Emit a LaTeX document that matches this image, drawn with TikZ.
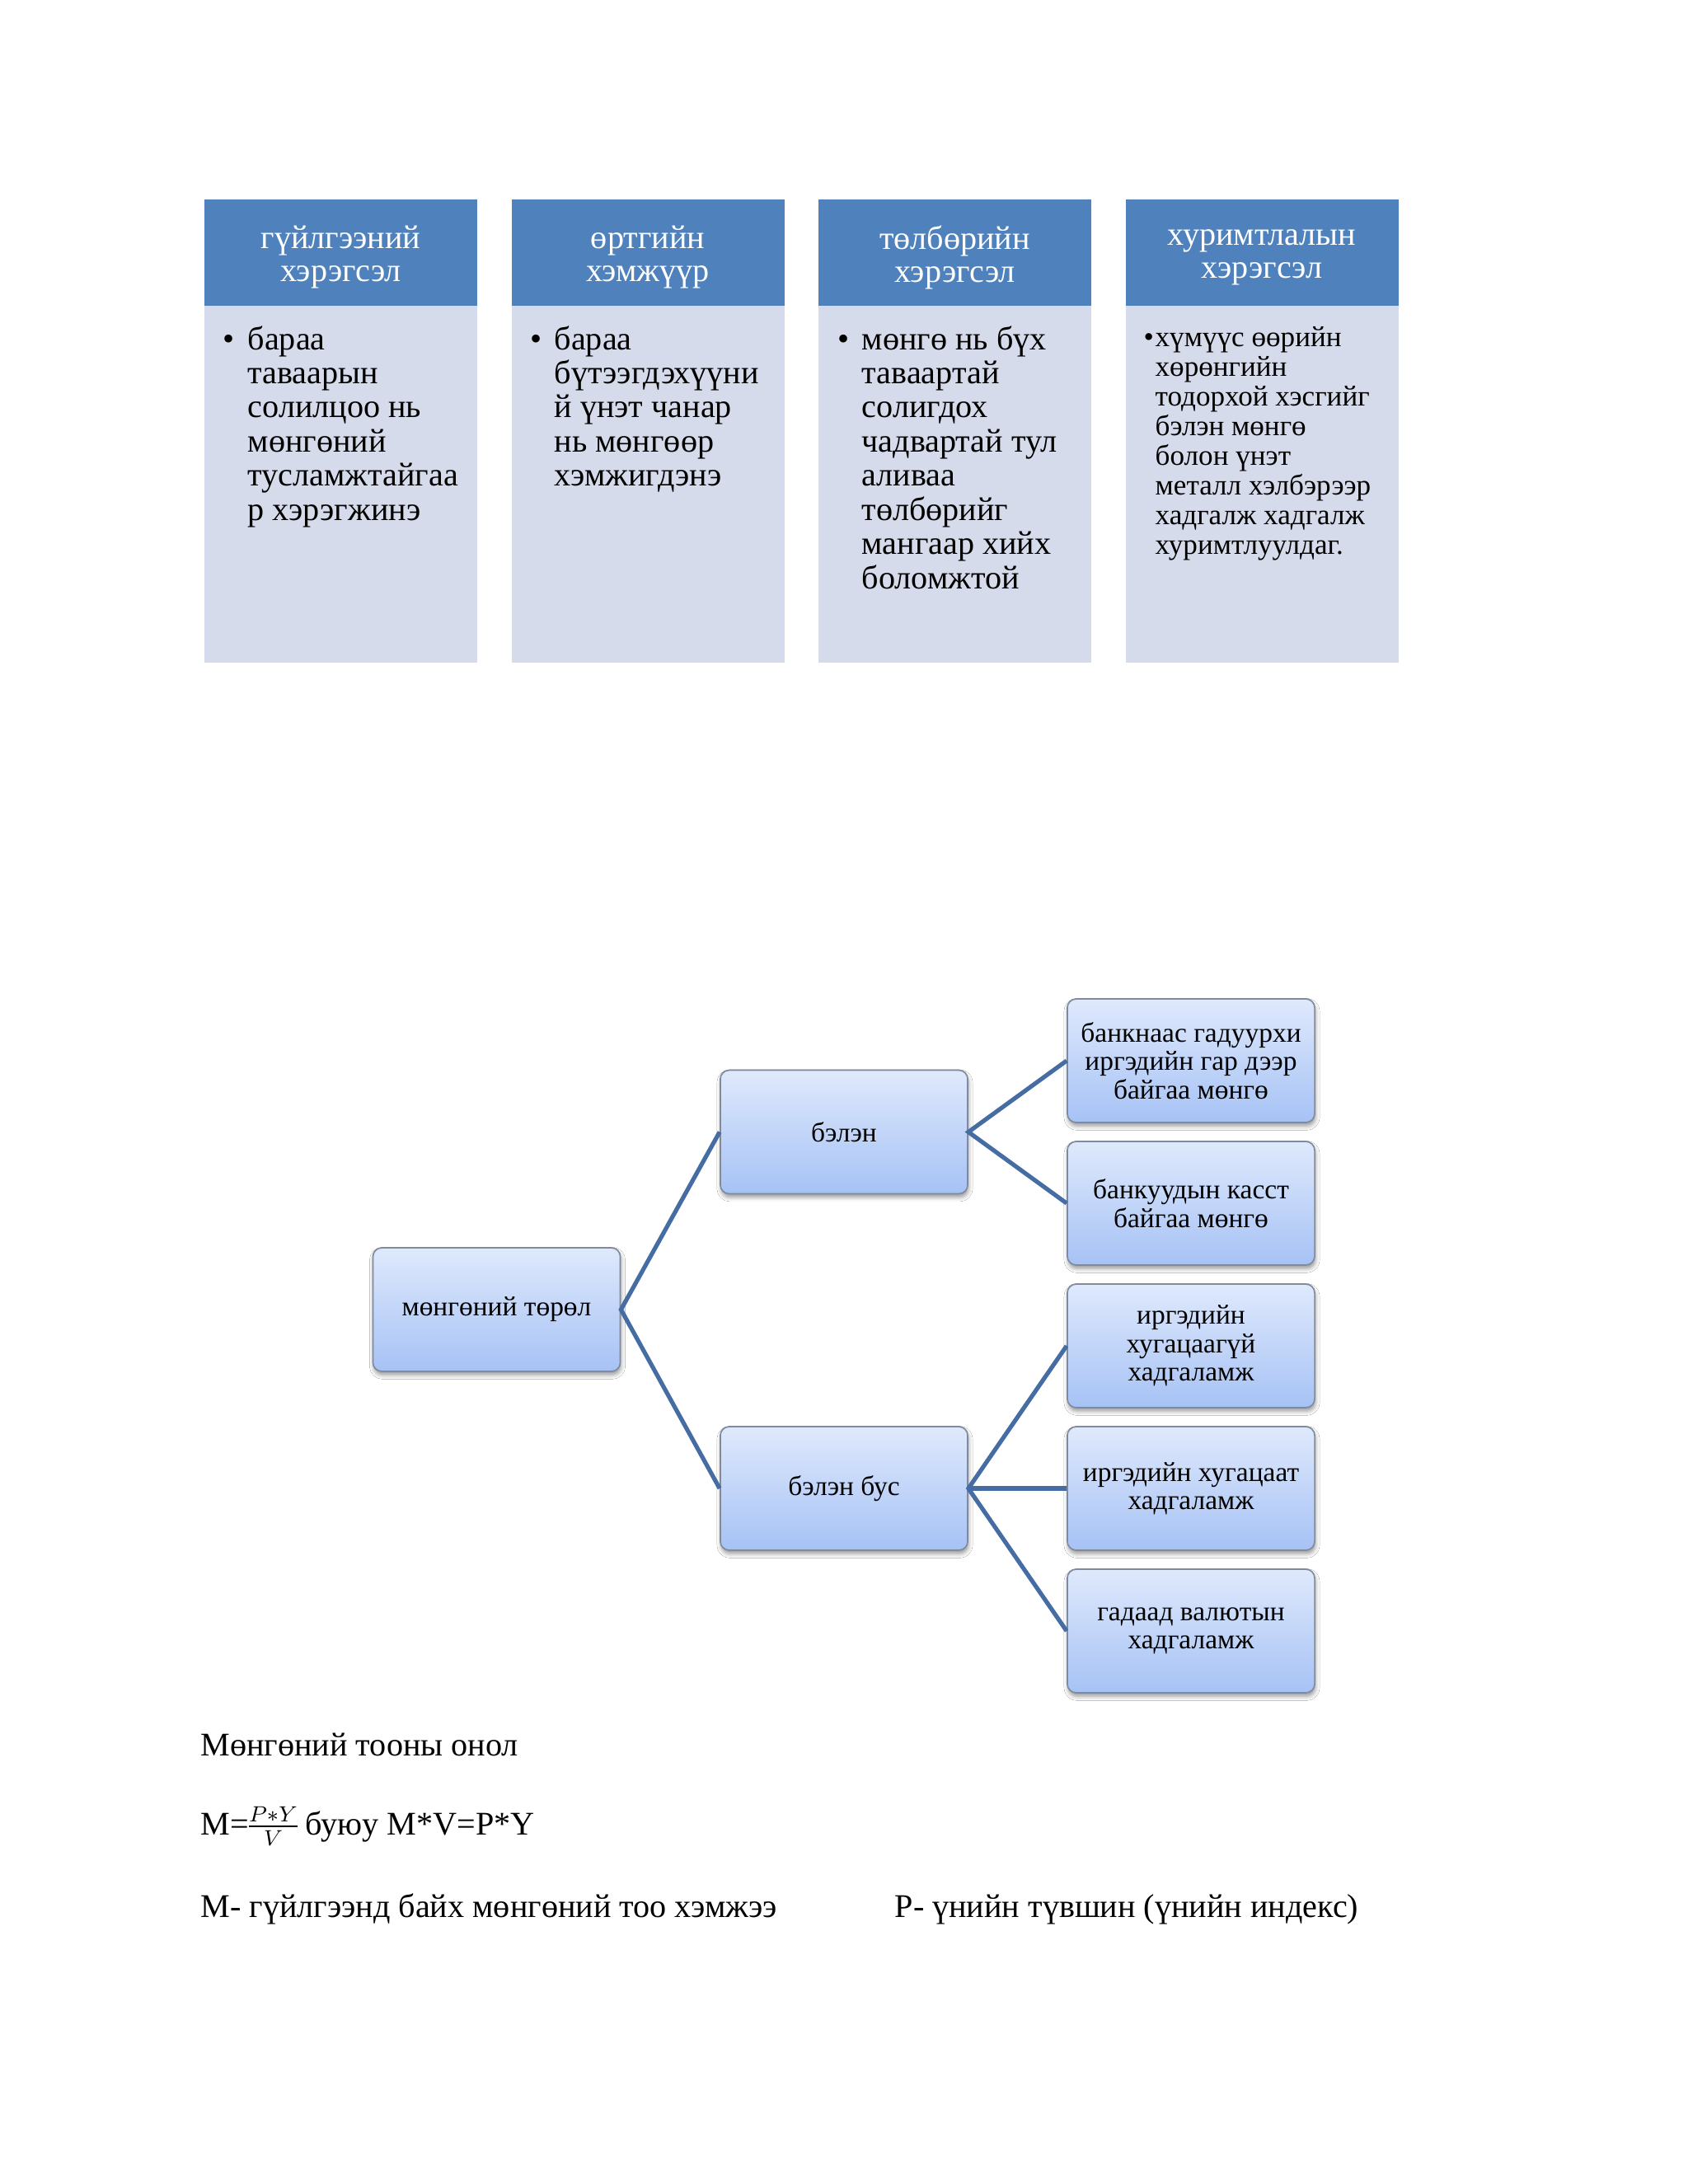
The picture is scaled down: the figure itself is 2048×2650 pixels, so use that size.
\documentclass[tikz,border=0pt]{standalone}
\usepackage{fontspec}
\usepackage{amsmath}
\setmainfont{Liberation Serif}
\usetikzlibrary{shadows.blur}
\definecolor{hdr}{HTML}{4F81BD}
\definecolor{bodyc}{HTML}{D6DBEB}
\definecolor{lnc}{HTML}{456DA3}
\definecolor{boxtop}{HTML}{DFE9FC}
\definecolor{boxbot}{HTML}{A6C2F5}
\definecolor{boxdraw}{HTML}{7F8A9C}
\newcommand\vlines[1]{\vtop{\lineskiplimit=-100pt\lineskip=0pt\halign{##\hfil\cr#1\crcr}}}
\tikzset{
  hdrtext/.style={text=white, align=center, inner sep=0pt, font=\fontsize{12bp}{12bp}\selectfont},
  bodytext/.style={anchor=base west, inner sep=0pt, font=\fontsize{12bp}{12.4bp}\selectfont},
  smalltext/.style={anchor=base west, inner sep=0pt, font=\fontsize{10.5bp}{10.8bp}\selectfont},
  tbox/.style={draw=boxdraw, line width=0.5bp, rounded corners=3.2bp,
    top color=boxtop, bottom color=boxbot, minimum width=89.7bp, minimum height=44.8bp,
    align=center, inner sep=2bp, font=\fontsize{10bp}{10.3bp}\selectfont,
    blur shadow={shadow xshift=0.3bp, shadow yshift=-1.3bp, shadow blur radius=1.5bp, shadow opacity=40}},
  conn/.style={draw=lnc, line width=1.55bp},
  plain/.style={anchor=base west, inner sep=0pt, font=\fontsize{12bp}{14bp}\selectfont}
}
\begin{document}
\begin{tikzpicture}[x=0.29886bp, y=-0.29886bp]
\useasboundingbox[fill=white] (0,0) rectangle (2048,2650);

% ---- top columns ----
\foreach \xl in {248,620.5,993,1365.5}{
  \fill[hdr] (\xl,242) rectangle ({\xl+331},371);
  \fill[bodyc] (\xl,371) rectangle ({\xl+331},804);
}
\node[hdrtext] (h1) at (413.5,312) {гүйлгээний\\хэрэгсэл};
\node[hdrtext] (h2) at (786,312) {өртгийн\\хэмжүүр};
\node[hdrtext] (h3) at (1158.5,312) {төлбөрийн\\хэрэгсэл};
\node[hdrtext] (h4) at (1531,312) {хуримтлалын\\хэрэгсэл};

\node[bodytext] (u1) at (270,424) {•};
\node[bodytext] (b1) at (300,424) {\vlines{бараа\cr таваарын\cr солилцоо нь\cr мөнгөний\cr тусламжтайгаа\cr р хэрэгжинэ}};
\node[bodytext] (u2) at (643,424) {•};
\node[bodytext] (b2) at (672,424) {\vlines{бараа\cr бүтээгдэхүүни\cr й үнэт чанар\cr нь мөнгөөр\cr хэмжигдэнэ}};
\node[bodytext] (u3) at (1016,424) {•};
\node[bodytext] (b3) at (1045,424) {\vlines{мөнгө нь бүх\cr таваартай\cr солигдох\cr чадвартай тул\cr аливаа\cr төлбөрийг\cr мангаар хийх\cr боломжтой}};
\node[smalltext] (u4) at (1387,420) {•};
\node[smalltext] (b4) at (1401,420) {\vlines{хүмүүс өөрийн\cr хөрөнгийн\cr тодорхой хэсгийг\cr бэлэн мөнгө\cr болон үнэт\cr металл хэлбэрээр\cr хадгалж хадгалж\cr хуримтлуулдаг.}};

% ---- tree ----
\node[tbox] (root) at (602.5,1589) {мөнгөний төрөл};
\node[tbox] (bel) at (1024,1373.5) {бэлэн};
\node[tbox] (belbus) at (1024,1806) {бэлэн бус};
\node[tbox] (l1) at (1445,1287) {банкнаас гадуурхи\\иргэдийн гар дээр\\байгаа мөнгө};
\node[tbox] (l2) at (1445,1460) {банкуудын касст\\байгаа мөнгө};
\node[tbox] (l3) at (1445,1633) {иргэдийн\\хугацаагүй\\хадгаламж};
\node[tbox] (l4) at (1445,1806) {иргэдийн хугацаат\\хадгаламж};
\node[tbox] (l5) at (1445,1979) {гадаад валютын\\хадгаламж};

\draw[conn] (bel.west) -- (root.east) -- (belbus.west);
\draw[conn] (l1.west) -- (bel.east) -- (l2.west);
\draw[conn] (l3.west) -- (belbus.east) -- (l5.west);
\draw[conn] (belbus.east) -- (l4.west);

% ---- text below ----
\node[plain] (t1) at (243,2130) {Мөнгөний тооны онол};
\node[plain] (t2) at (243,2226) {M={\nulldelimiterspace=0pt$\genfrac{}{}{0.7pt}{1}{P*Y}{V}$} буюу M*V=P*Y};
\node[plain] (t3) at (243,2326) {M- гүйлгээнд байх мөнгөний тоо хэмжээ};
\node[plain] (t4) at (1085,2326) {P- үнийн түвшин (үнийн индекс)};
\end{tikzpicture}
\end{document}
